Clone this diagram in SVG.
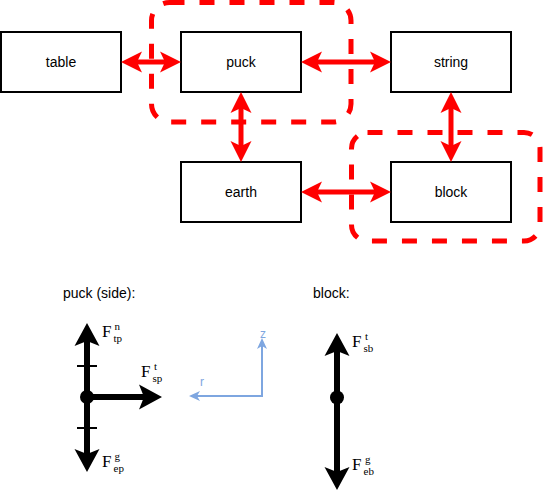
<svg xmlns="http://www.w3.org/2000/svg" width="544" height="504" viewBox="0 0 544 504">
<style>
.box{fill:#fff;stroke:#000;stroke-width:2}
.lbl{font-family:"Liberation Sans",Arial,sans-serif;font-size:14px;fill:#000;text-anchor:middle}
.head{font-family:"Liberation Sans",Arial,sans-serif;font-size:14px;fill:#000}
.grp{fill:none;stroke:#ff0000;stroke-width:5;stroke-dasharray:15 15}
.conn{stroke:#ff0000;stroke-width:5;fill:none;marker-start:url(#ra);marker-end:url(#ra)}
.force{stroke:#000;stroke-width:6;fill:none}
.ax{stroke:#7EA6E0;stroke-width:2;fill:none;marker-start:url(#ba);marker-end:url(#ba)}
.axl{font-family:"Liberation Sans",Arial,sans-serif;font-size:12px;fill:#7EA6E0;text-anchor:middle}
.F{font-family:"Liberation Serif","Times New Roman",serif;font-size:17px;fill:#000}
.s{font-family:"Liberation Serif","Times New Roman",serif;font-size:11px;fill:#000}
</style>
<defs>
<marker id="ra" markerUnits="userSpaceOnUse" viewBox="0 -11 22 22" markerWidth="22" markerHeight="22" refX="5" refY="0" orient="auto-start-reverse">
<path d="M0,-10.5 L21,0 L0,10.5 L5,0 Z" fill="#ff0000"/>
</marker>
<marker id="ka" markerUnits="userSpaceOnUse" viewBox="0 -13 24 26" markerWidth="24" markerHeight="26" refX="5" refY="0" orient="auto-start-reverse">
<path d="M0,-12.5 L23,0 L0,12.5 L5,0 Z" fill="#000"/>
</marker>
<marker id="ba" markerUnits="userSpaceOnUse" viewBox="0 -6 12 12" markerWidth="12" markerHeight="12" refX="3" refY="0" orient="auto-start-reverse">
<path d="M0,-5 L11,0 L0,5 L3,0 Z" fill="#7EA6E0"/>
</marker>
</defs>

<g id="group-puck"><rect class="grp" x="151.5" y="2.5" width="199.5" height="119.5" rx="18" ry="18"/></g>
<g id="group-block"><rect class="grp" x="351.5" y="132.5" width="188.5" height="108.5" rx="16" ry="16"/></g>

<g id="table"><rect class="box" x="1" y="32" width="120" height="60"/><text class="lbl" x="61" y="67">table</text></g>
<g id="puck"><rect class="box" x="181" y="32" width="120" height="60"/><text class="lbl" x="241" y="67">puck</text></g>
<g id="string"><rect class="box" x="391" y="32" width="120" height="60"/><text class="lbl" x="451" y="67">string</text></g>
<g id="earth"><rect class="box" x="181" y="162" width="120" height="60"/><text class="lbl" x="241" y="197">earth</text></g>
<g id="block"><rect class="box" x="391" y="162" width="120" height="60"/><text class="lbl" x="451" y="197">block</text></g>

<g id="connectors">
<line class="conn" x1="137" y1="62" x2="165" y2="62"/>
<line class="conn" x1="317" y1="62" x2="375" y2="62"/>
<line class="conn" x1="241" y1="108" x2="241" y2="146"/>
<line class="conn" x1="451" y1="108" x2="451" y2="146"/>
<line class="conn" x1="317" y1="192" x2="375" y2="192"/>
</g>

<g id="puck-fbd">
<text class="head" x="63" y="298">puck (side):</text>
<line class="force" x1="87" y1="341" x2="87" y2="454" marker-start="url(#ka)" marker-end="url(#ka)"/>
<line class="force" x1="87" y1="397" x2="144" y2="397" marker-end="url(#ka)"/>
<line stroke="#000" stroke-width="2" x1="77" y1="366" x2="97" y2="366"/>
<line stroke="#000" stroke-width="2" x1="77" y1="428" x2="97" y2="428"/>
<circle cx="87" cy="397" r="7" fill="#000"/>
<text class="F" x="102" y="337">F</text><text class="s" x="114.5" y="330">n</text><text class="s" x="113.5" y="342">tp</text>
<text class="F" x="141" y="377">F</text><text class="s" x="154" y="370">t</text><text class="s" x="152.5" y="382">sp</text>
<text class="F" x="102" y="467">F</text><text class="s" x="114.5" y="460">g</text><text class="s" x="113.5" y="472">ep</text>
</g>

<g id="axes">
<polyline class="ax" points="262,346 262,396 197,396"/>
<text class="axl" x="263" y="338">z</text>
<text class="axl" x="202" y="386">r</text>
</g>

<g id="block-fbd">
<text class="head" x="313" y="298">block:</text>
<line class="force" x1="337" y1="351" x2="337" y2="472" marker-start="url(#ka)" marker-end="url(#ka)"/>
<circle cx="337" cy="397.5" r="7" fill="#000"/>
<text class="F" x="352" y="347">F</text><text class="s" x="365" y="340">t</text><text class="s" x="363.5" y="352">sb</text>
<text class="F" x="352" y="470">F</text><text class="s" x="365" y="463">g</text><text class="s" x="363.5" y="475">eb</text>
</g>
</svg>
